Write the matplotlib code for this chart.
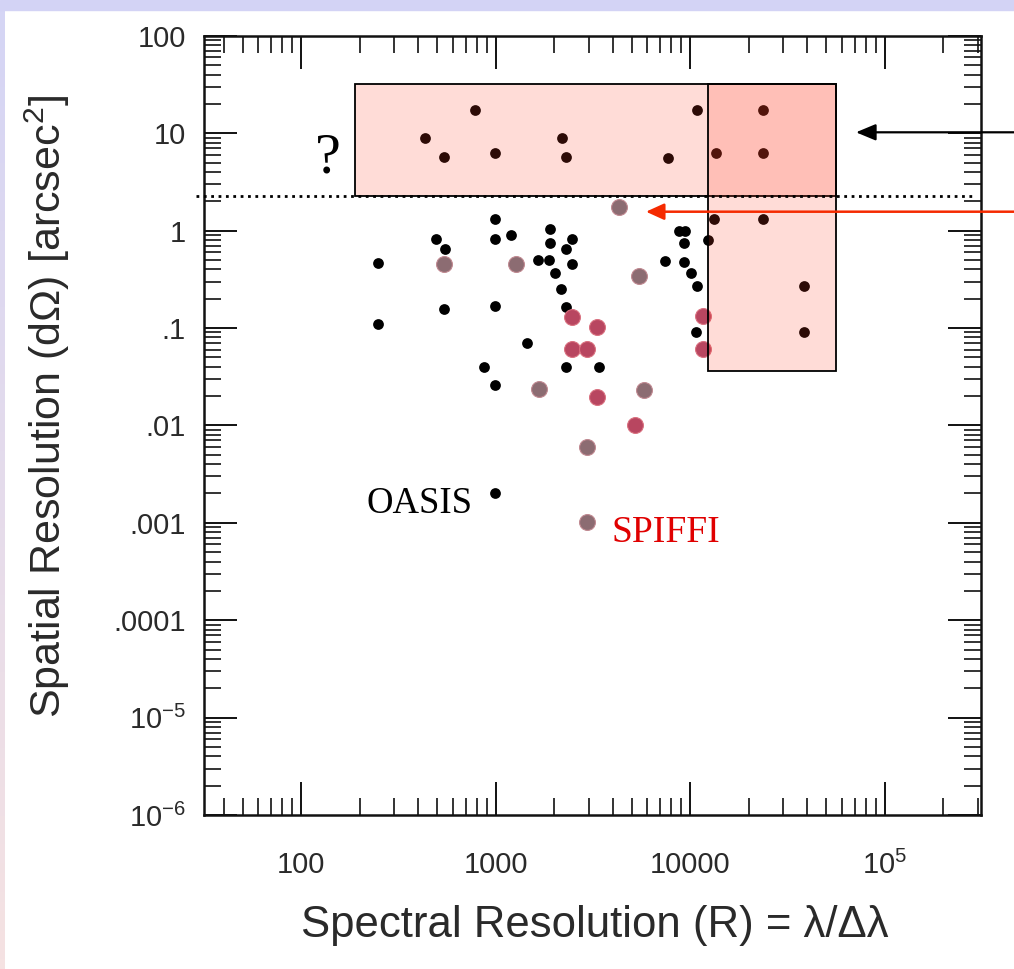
import numpy as np
import matplotlib
matplotlib.use("Agg")
import matplotlib.pyplot as plt
from matplotlib.patches import Rectangle, FancyArrowPatch
from matplotlib.ticker import LogLocator, FixedLocator, FixedFormatter, NullFormatter

plt.rcParams['font.family'] = ['Liberation Sans', 'DejaVu Sans']
plt.rcParams['mathtext.fontset'] = 'custom'
plt.rcParams['mathtext.rm'] = 'Liberation Sans'
plt.rcParams['mathtext.it'] = 'Liberation Sans:italic'

# spectrographs (black points): spectral resolution R, spatial resolution (arcsec^2)
black_R = [782, 432, 541, 986, 2198, 2303, 10790, 7650, 13510, 23650, 23650,
           13240, 23650, 38550, 38550,
           8750, 9400, 9290, 12380, 7390, 9320, 10050, 10860, 10740,
           986, 494, 546, 986, 1193, 248, 1654, 1877, 1906, 1906, 2473, 2303,
           2473, 2015, 2164, 541, 986, 2288, 247, 1452, 870, 986, 2288, 3393,
           986]
black_dO = [17.3, 9.0, 5.7, 6.2, 9.0, 5.7, 17.3, 5.56, 6.2, 17.3, 6.2,
            1.31, 1.31, 0.272, 0.090,
            1.0, 1.0, 0.75, 0.80, 0.49, 0.48, 0.365, 0.272, 0.090,
            1.31, 0.815, 0.643, 0.815, 0.895, 0.46, 0.50, 0.50, 1.03, 0.75, 0.815, 0.643,
            0.454, 0.365, 0.251, 0.158, 0.170, 0.1655, 0.110, 0.0702, 0.040, 0.026, 0.040, 0.040,
            0.00204]

# instruments highlighted in red
red_R = [2473, 3325, 2473, 2954, 11620, 11620, 3325, 5215]
red_dO = [0.1306, 0.1017, 0.0604, 0.0604, 0.1337, 0.0604, 0.0198, 0.0101]

# instruments highlighted in grey
grey_R = [4300, 541, 1275, 5450, 1668, 5780, 2954, 2954]
grey_dO = [1.76, 0.454, 0.454, 0.342, 0.0235, 0.0231, 0.00604, 0.001026]

# shaded regions (R_min, R_max, dO_min, dO_max)
wide_box = (190, 55900, 2.28, 32)
tall_box = (12290, 55900, 0.0362, 32)
cut_level = 2.28

# labelled instruments: (R, dO) of the text anchor
oasis_pos = (755, 0.00127)
spiffi_pos = (3954, 0.000635)

x_ticks = [100, 1000, 10000, 100000]
x_labels = ['100', '1000', '10000', '$10^5$']
y_ticks = [1e-6, 1e-5, 1e-4, 1e-3, 1e-2, 1e-1, 1, 10, 100]
y_labels = ['$10^{-6}$', '$10^{-5}$', '.0001', '.001', '.01', '.1', '1', '10', '100']

W, H = 1014, 969
fig = plt.figure(figsize=(W / 100, H / 100), dpi=100)
fig.patch.set_facecolor('white')

# slide background stripes
fig.patches.append(Rectangle((0, 1 - 10 / H), 1, 10 / H, transform=fig.transFigure,
                             color='#d3d3f5', zorder=0))
grad = fig.add_axes([0, 0, 5 / W, 1 - 10 / H])
grad.imshow(np.linspace(0, 1, 100).reshape(-1, 1), aspect='auto',
            cmap=matplotlib.colors.LinearSegmentedColormap.from_list('bg', ['#d5d5f5', '#f5e2e2']))
grad.axis('off')

ax = fig.add_axes([204 / W, 1 - 815 / H, 777 / W, 779.2 / H])
ax.set_xscale('log')
ax.set_yscale('log')
ax.set_xlim(10 ** 1.5, 10 ** 5.495)
ax.set_ylim(1e-6, 100)

ax.scatter(black_R, black_dO, s=60, color='black', linewidths=0, zorder=3)
ax.scatter(red_R, red_dO, s=130, color='#b84660', edgecolors='#d9707f', linewidths=0.8, zorder=3)
ax.scatter(grey_R, grey_dO, s=130, color='#8c6c72', edgecolors='#c08890', linewidths=0.8, zorder=3)

for (x0, x1, y0, y1) in [wide_box, tall_box]:
    ax.add_patch(Rectangle((x0, y0), x1 - x0, y1 - y0, facecolor=(1.0, 0.25, 0.15, 0.18),
                           edgecolor='black', linewidth=1.3, zorder=4))

ax.plot([-0.0103, 0.9897], [cut_level, cut_level], transform=ax.get_yaxis_transform(),
        color='black', linestyle=':', linewidth=2.0, clip_on=False, zorder=5)

ax.xaxis.set_major_locator(FixedLocator(x_ticks))
ax.xaxis.set_major_formatter(FixedFormatter(x_labels))
ax.yaxis.set_major_locator(FixedLocator(y_ticks))
ax.yaxis.set_major_formatter(FixedFormatter(y_labels))
ax.xaxis.set_minor_locator(LogLocator(base=10, subs=np.arange(2, 10), numticks=20))
ax.yaxis.set_minor_locator(LogLocator(base=10, subs=np.arange(2, 10), numticks=20))
ax.xaxis.set_minor_formatter(NullFormatter())
ax.yaxis.set_minor_formatter(NullFormatter())
ax.tick_params(which='both', direction='in', top=True, right=True, color='#111111',
               labelcolor='#2a2a2a')
ax.tick_params(which='major', length=24, width=1.4, labelsize=21, pad=13)
ax.tick_params(which='minor', length=12, width=1.2)
ax.tick_params(axis='x', which='major', pad=26)
for sp in ax.spines.values():
    sp.set_linewidth(1.8)
    sp.set_color('#111111')

fig.text(595 / W, 1 - 925 / H, 'Spectral Resolution (R) = λ/Δλ', fontsize=31.5,
         color='#2a2a2a', ha='center', va='center')
fig.text(47 / W, 1 - 407 / H, 'Spatial Resolution (dΩ) [arcsec$^2$]', fontsize=31,
         color='#2a2a2a', ha='center', va='center', rotation=90)

ax.text(0.160, 0.824, '?', transform=ax.transAxes, fontsize=42, family='Liberation Serif',
        ha='center', va='baseline')
ax.text(*oasis_pos, 'OASIS', fontsize=26.5, family='Liberation Serif', ha='right', va='baseline')
ax.text(*spiffi_pos, 'SPIFFI', fontsize=27, family='Liberation Serif', color='#e00000',
        ha='left', va='baseline')

# arrows pointing into the figure from the right edge
def fig_pt(px, py):
    return (px / W, 1 - py / H)

fig.add_artist(FancyArrowPatch(fig_pt(W, 132.3), fig_pt(856, 132.3), transform=fig.transFigure,
                               arrowstyle='-|>,head_length=12,head_width=5', color='black',
                               lw=1.6, shrinkA=0, shrinkB=0, zorder=10))
fig.add_artist(FancyArrowPatch(fig_pt(W, 211.7), fig_pt(646, 211.7), transform=fig.transFigure,
                               arrowstyle='-|>,head_length=11,head_width=5', color='#f52a00',
                               lw=1.8, shrinkA=0, shrinkB=0, zorder=10))

fig.savefig('out.png', dpi=100)
